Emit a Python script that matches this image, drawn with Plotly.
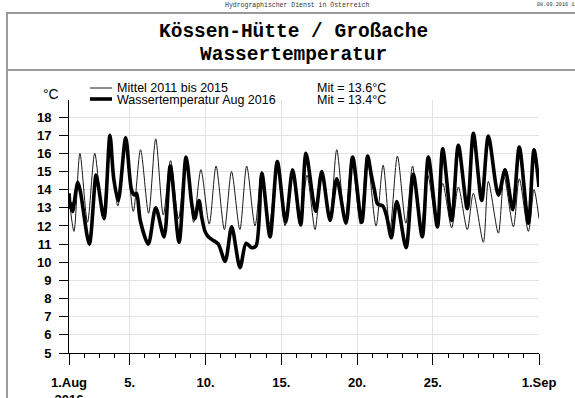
import pandas as pd
import plotly.graph_objects as go

# Daily extremes, days elapsed since 1 Aug 2016 00:00 and temperature in °C
mean_days = [0.00, 0.33, 0.72, 1.22, 1.70, 2.22, 2.70, 3.22, 3.72, 4.24, 4.72, 5.25, 5.72,
             6.22, 6.70, 7.22, 7.72, 8.22, 8.70, 9.25, 9.70, 10.25, 10.72, 11.27, 11.72,
             12.27, 12.71, 13.22, 13.72, 14.25, 14.70, 15.25, 15.70, 16.23, 16.67, 17.20,
             17.66, 18.20, 18.66, 19.22, 19.66, 20.25, 20.72, 21.17, 21.66, 22.22, 22.66,
             23.20, 23.66, 24.25, 24.65, 25.24, 25.68, 26.27, 26.67, 27.33, 27.66, 28.32,
             28.70, 29.31, 29.70, 30.30, 30.67, 31.00]
mean_temp = [13.6, 11.7, 16.0, 12.2, 16.0, 12.5, 16.2, 13.1, 16.4, 12.8, 16.2, 12.7, 16.8,
             12.6, 15.6, 12.4, 15.7, 12.2, 15.1, 12.1, 15.3, 11.8, 15.0, 11.8, 15.3,
             12.0, 15.0, 12.1, 15.3, 12.0, 15.0, 12.0, 14.8, 11.8, 15.0, 12.3,
             16.2, 12.3, 15.6, 12.1, 15.9, 12.0, 15.35, 11.8, 15.85, 12.15, 15.3,
             11.7, 14.8, 12.15, 14.35, 11.9, 14.15, 11.8, 13.8, 11.1, 14.45, 11.6,
             14.7, 11.95, 14.6, 11.7, 14.0, 12.4]

aug_days = [0.00, 0.10, 0.17, 0.24, 0.58, 0.75, 1.34, 1.78, 1.90, 2.31, 2.70, 2.95, 3.25,
            3.74, 4.12, 4.32, 4.46, 4.70, 5.23, 5.72, 6.27, 6.68, 7.26, 7.72, 8.10, 8.30,
            8.58, 8.75, 8.97, 9.19, 9.52, 9.85, 10.30, 10.73, 11.28, 11.68, 12.05, 12.34,
            12.72, 13.26, 13.74, 14.29, 14.75, 15.28, 15.63, 16.27, 16.67, 17.22, 17.66,
            18.27, 18.71, 19.31, 19.70, 19.92, 20.14, 20.36, 20.70, 20.96, 21.26, 21.62,
            22.23, 22.71, 23.30, 23.70, 24.30, 24.65, 25.24, 25.68, 26.27, 26.67, 27.22,
            27.66, 28.32, 28.76, 29.27, 29.70, 30.30, 30.67, 31.00]
aug_temp = [13.8, 13.0, 13.2, 12.8, 14.4, 13.9, 11.0, 14.8, 14.4, 12.4, 17.0, 14.6, 13.4,
            16.85, 14.0, 13.7, 13.8, 12.3, 11.0, 13.0, 11.4, 15.3, 11.1, 15.8, 13.2, 12.4,
            13.4, 12.5, 11.7, 11.4, 11.2, 11.0, 10.05, 11.95, 9.7, 11.05, 10.8, 10.9,
            14.9, 11.4, 15.55, 12.2, 15.1, 12.05, 16.0, 12.8, 15.0, 12.3, 14.6,
            12.15, 15.8, 12.2, 15.85, 14.9, 14.0, 13.2, 13.1, 12.5, 11.35, 13.35,
            10.8, 14.85, 11.4, 15.8, 11.95, 16.25, 12.3, 16.45, 12.95, 17.1, 13.4,
            16.95, 13.7, 15.1, 12.9, 16.35, 12.15, 16.2, 14.15]

series_names = ["Mittel 2011 bis 2015", "Wassertemperatur Aug 2016"]
series_means = ["Mit = 13.6°C", "Mit = 13.4°C"]

tick_dates = ["2016-08-01", "2016-08-05", "2016-08-10", "2016-08-15",
              "2016-08-20", "2016-08-25", "2016-09-01"]
tick_labels = ["1.Aug<br>2016", "5.", "10.", "15.", "20.", "25.", "1.Sep"]
y_ticks = list(range(5, 19))

title_lines = ["Kössen-Hütte / Großache", "Wassertemperatur"]
header_text = "Hydrographischer Dienst in Österreich"
stamp_text = "08.09.2016 11:45"

START = pd.Timestamp("2016-08-01")


def to_time(days):
    return START + pd.to_timedelta(days, unit="D")


# page geometry (pixels) of the plotting area
W, H = 575, 398
L, R, T, B = 69, 539, 100, 353


def xp(px):
    return (px - L) / (R - L)


def yp(py):
    return (B - py) / (B - T)


SANS = "Liberation Sans, Arial, sans-serif"
MONO = "Liberation Mono, Courier New, monospace"

fig = go.Figure()
fig.add_trace(go.Scatter(
    x=to_time(mean_days), y=mean_temp, mode="lines", name=series_names[0],
    line=dict(color="#1a1a1a", width=1, shape="spline", smoothing=0.8),
    showlegend=False, hoverinfo="skip"))
fig.add_trace(go.Scatter(
    x=to_time(aug_days), y=aug_temp, mode="lines", name=series_names[1],
    line=dict(color="#000000", width=3.6, shape="spline", smoothing=0.8),
    showlegend=False, hoverinfo="skip"))

day_ticks = pd.date_range("2016-08-01", "2016-09-01", freq="D")
tick_font = dict(family=SANS, size=13, color="#000", weight="bold")

fig.update_xaxes(
    type="date", range=["2016-08-01", "2016-09-01"], automargin=False,
    tickmode="array", tickvals=tick_dates, ticktext=tick_labels,
    ticks="outside", ticklen=11, tickwidth=1, tickcolor="#000",
    showline=True, linecolor="#000", linewidth=1,
    showgrid=True, gridcolor="#e3e3e3", gridwidth=1, zeroline=False,
    tickfont=tick_font, ticklabelstandoff=6,
    minor=dict(tickmode="array", tickvals=list(day_ticks), ticks="outside",
               ticklen=4, tickwidth=1, tickcolor="#000", showgrid=False),
)
fig.update_yaxes(
    range=[5, 5 + (B - T) / 18.15], automargin=False,
    tickmode="array", tickvals=y_ticks,
    ticks="outside", ticklen=9, tickwidth=1, tickcolor="#000",
    showline=True, linecolor="#000", linewidth=1,
    showgrid=True, gridcolor="#e3e3e3", gridwidth=1, zeroline=False,
    tickfont=tick_font, ticklabelstandoff=5,
)

ann = []
# header line and time stamp
ann.append(dict(text=header_text, x=xp(297), y=yp(5), xanchor="center", yanchor="middle",
                font=dict(family=MONO, size=6.5, color="#333")))
ann.append(dict(text=stamp_text, x=xp(536), y=yp(5), xanchor="left", yanchor="middle",
                font=dict(family=MONO, size=5.2, color="#333")))
# two-line title
ann.append(dict(text="<b>" + title_lines[0] + "</b>", x=xp(293), y=yp(32),
                xanchor="center", yanchor="middle",
                font=dict(family=MONO, size=19.5, color="#000")))
ann.append(dict(text="<b>" + title_lines[1] + "</b>", x=xp(293), y=yp(55),
                xanchor="center", yanchor="middle",
                font=dict(family=MONO, size=19.5, color="#000")))
# unit label
ann.append(dict(text="°C", x=xp(51), y=yp(94), xanchor="center", yanchor="middle",
                font=dict(family=SANS, size=14, color="#000")))
# legend texts
for i, yy in enumerate([87.5, 99.5]):
    ann.append(dict(text=series_names[i], x=xp(116), y=yp(yy), xanchor="left",
                    yanchor="middle", font=dict(family=SANS, size=12.5, color="#000")))
    ann.append(dict(text=series_means[i], x=xp(316), y=yp(yy), xanchor="left",
                    yanchor="middle", font=dict(family=SANS, size=12.5, color="#000")))
for a in ann:
    a.update(xref="paper", yref="paper", showarrow=False, borderpad=0)

shapes = []
# legend line samples
shapes.append(dict(type="line", x0=xp(90), x1=xp(112), y0=yp(88), y1=yp(88),
                   line=dict(color="#1a1a1a", width=1)))
shapes.append(dict(type="line", x0=xp(90), x1=xp(112), y0=yp(99), y1=yp(99),
                   line=dict(color="#000", width=3.6)))
# page frame
frame = dict(color="#9a9a9a", width=2)
shapes.append(dict(type="line", x0=xp(7), x1=xp(580), y0=yp(13), y1=yp(13), line=frame))
shapes.append(dict(type="line", x0=xp(7), x1=xp(580), y0=yp(70), y1=yp(70), line=frame))
shapes.append(dict(type="line", x0=xp(7), x1=xp(7), y0=yp(12), y1=yp(405), line=frame))
for s in shapes:
    s.update(xref="paper", yref="paper", layer="above")

fig.update_layout(
    width=W, height=H, autosize=False,
    margin=dict(l=L, r=W - R, t=T, b=H - B, pad=0, autoexpand=False),
    paper_bgcolor="#ffffff", plot_bgcolor="#ffffff",
    annotations=ann, shapes=shapes,
)

fig.write_html("out.html")
